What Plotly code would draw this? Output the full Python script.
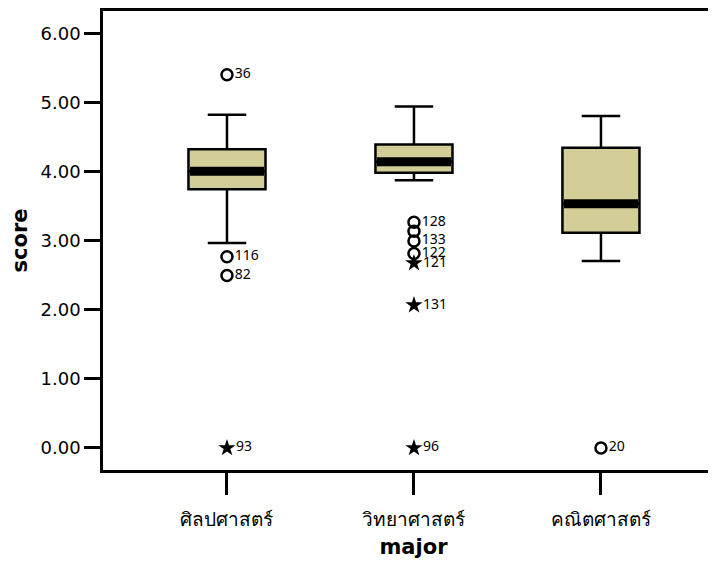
import plotly.graph_objects as go

categories = ["ศิลปศาสตร์", "วิทยาศาสตร์", "คณิตศาสตร์"]
q1 = [3.75, 3.99, 3.12]
median = [4.01, 4.15, 3.54]
q3 = [4.33, 4.40, 4.35]
lower_whisker = [2.97, 3.88, 2.71]
upper_whisker = [4.83, 4.95, 4.81]

circle_group = [0, 0, 0, 1, 1, 1, 1, 2]
circle_value = [5.41, 2.77, 2.50, 3.27, 3.14, 3.00, 2.82, 0.00]
circle_label = ["36", "116", "82", "128", "", "133", "122", "20"]

star_group = [0, 1, 1, 1]
star_value = [0.00, 2.68, 2.07, 0.00]
star_label = ["93", "121", "131", "96"]

y_ticks = [0, 1, 2, 3, 4, 5, 6]
y_ticktext = ["0.00", "1.00", "2.00", "3.00", "4.00", "5.00", "6.00"]

box_w = 0.412
fill = "#D3CE97"
pos = list(range(len(categories)))

fig = go.Figure()
fig.add_trace(go.Box(
    x=pos, q1=q1, median=median, q3=q3,
    lowerfence=lower_whisker, upperfence=upper_whisker,
    width=box_w, whiskerwidth=0.5, boxpoints=False,
    fillcolor=fill, line=dict(color="black", width=2.5),
    hoverinfo="skip", showlegend=False,
))

mx, my = [], []
for i, m in zip(pos, median):
    mx += [i - box_w / 2 + 0.008, i + box_w / 2 - 0.008, None]
    my += [m, m, None]
fig.add_trace(go.Scatter(x=mx, y=my, mode="lines",
                         line=dict(color="black", width=9),
                         showlegend=False, hoverinfo="skip"))

fig.add_trace(go.Scatter(
    x=circle_group, y=circle_value, mode="markers+text",
    marker=dict(symbol="circle-open", size=11, color="black",
                line=dict(width=2.5, color="black")),
    text=circle_label, textposition="middle right",
    textfont=dict(family="Noto Sans", size=14, color="black"),
    showlegend=False, hoverinfo="skip"))

fig.add_trace(go.Scatter(
    x=star_group, y=star_value, mode="markers+text",
    marker=dict(symbol="star", size=13, color="black"),
    text=star_label, textposition="middle right",
    textfont=dict(family="Noto Sans", size=14, color="black"),
    showlegend=False, hoverinfo="skip"))

fig.update_layout(
    width=716, height=569,
    margin=dict(l=95, r=0, t=3, b=107),
    paper_bgcolor="white", plot_bgcolor="white",
    font=dict(family="DejaVu Sans", color="black"),
)
fig.update_xaxes(
    range=[-0.663, 2.658],
    tickmode="array", tickvals=pos, ticktext=categories,
    tickfont=dict(size=19, family="Noto Sans, DejaVu Sans"),
    ticks="outside", ticklen=22, tickwidth=2.5, tickcolor="black",
    ticklabelstandoff=8,
    showline=True, linecolor="black", linewidth=2.5, mirror=True,
    showgrid=False, zeroline=False,
    title=dict(text="<b>major</b>", font=dict(size=21, family="DejaVu Sans"), standoff=9),
)
fig.update_yaxes(
    range=[-0.319, 6.333],
    tickmode="array", tickvals=y_ticks, ticktext=y_ticktext,
    tickfont=dict(size=18, family="DejaVu Sans"),
    ticks="outside", ticklen=16, tickwidth=2.5, tickcolor="black",
    showline=True, linecolor="black", linewidth=2.5, mirror=False,
    showgrid=False, zeroline=False,
    title=dict(text="<b>score</b>", font=dict(size=21, family="DejaVu Sans"), standoff=9),
)

fig.write_html("out.html")
